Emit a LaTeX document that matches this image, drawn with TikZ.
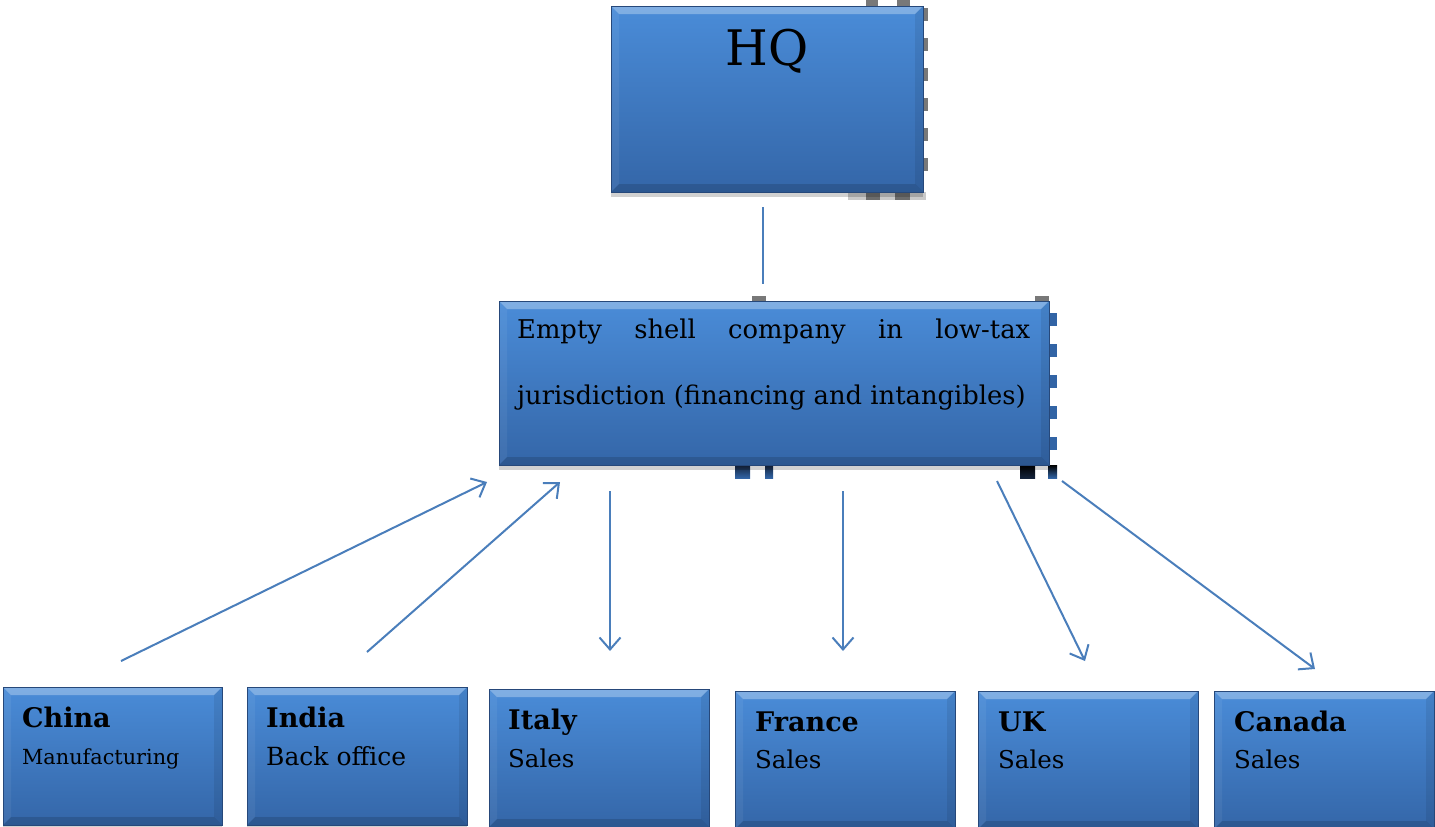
\documentclass[tikz,border=0pt]{standalone}
\usepackage{fontspec}
\setmainfont{DejaVu Serif}
\usetikzlibrary{arrows.meta,shadows}

\definecolor{boxtop}{RGB}{74,140,216}
\definecolor{boxbot}{RGB}{52,102,168}
\definecolor{boxedge}{RGB}{38,72,122}
\definecolor{linkblue}{RGB}{74,126,187}
\definecolor{markgray}{RGB}{120,120,120}
\definecolor{markblue}{RGB}{50,100,165}
\definecolor{markdark}{RGB}{20,35,60}

\tikzset{
  orgbox/.style={rectangle, draw=boxedge, line width=0.8pt,
    top color=boxtop, bottom color=boxbot, inner sep=0pt,
    drop shadow={shadow xshift=0pt, shadow yshift=-5pt, fill=black, opacity=0.18},
    path picture={
      \coordinate (pa) at (path picture bounding box.north west);
      \coordinate (pb) at (path picture bounding box.north east);
      \coordinate (pc) at (path picture bounding box.south east);
      \coordinate (pd) at (path picture bounding box.south west);
      % bevelled rim: light top and left, dark right and bottom
      \fill[white,opacity=0.30] (pa) -- (pb) -- ([xshift=-8pt,yshift=-8pt]pb) -- ([xshift=8pt,yshift=-8pt]pa) -- cycle;
      \fill[white,opacity=0.06] (pa) -- ([xshift=8pt,yshift=-8pt]pa) -- ([xshift=8pt,yshift=8pt]pd) -- (pd) -- cycle;
      \fill[black,opacity=0.08] (pb) -- (pc) -- ([xshift=-8pt,yshift=8pt]pc) -- ([xshift=-8pt,yshift=-8pt]pb) -- cycle;
      \fill[black,opacity=0.14] (pd) -- (pc) -- ([xshift=-8pt,yshift=8pt]pc) -- ([xshift=8pt,yshift=8pt]pd) -- cycle;
    }},
  boxtext/.style={anchor=base west, inner sep=0pt, text=black},
  link/.style={draw=linkblue, line width=2pt},
  linkarrow/.style={link, -{Straight Barb[length=12pt,width=21pt,line width=2pt]}},
}

\begin{document}
\begin{tikzpicture}[x=1pt,y=-1pt]
\useasboundingbox (0,0) rectangle (1435,827);

% stray marks around the top box
\foreach \yy in {8,38,68,98,128,158}
  \fill[markgray] (922,\yy) rectangle (928,\yy+13);
\fill[markgray] (866,0) rectangle (878,6);
\fill[markgray] (897,0) rectangle (910,6);
\fill[markgray!40] (848,192) rectangle (866,200);
\fill[markgray!90!black] (866,192) rectangle (880,200);
\fill[markgray!40] (880,192) rectangle (895,200);
\fill[markgray!90!black] (895,192) rectangle (910,200);
\fill[markgray!40] (910,192) rectangle (926,200);

% stray marks around the middle box
\foreach \yy in {313,344,375,406,437}
  \fill[markblue] (1050,\yy) rectangle (1057,\yy+13);
\fill[markgray] (752,296) rectangle (766,302);
\fill[markgray] (1035,296) rectangle (1049,302);
\shade[top color=markdark, bottom color=markblue] (735,465) rectangle (750,478);
\shade[top color=markdark, bottom color=markblue] (765,465) rectangle (773,478);
\shade[top color=black, bottom color=markdark] (1020,465) rectangle (1035,478);
\shade[top color=black, bottom color=markblue] (1048,465) rectangle (1057,478);

% boxes
\node[orgbox, minimum width=312pt, minimum height=186pt] (hq) at (767,99) {};
\node[orgbox, minimum width=550pt, minimum height=164pt] (shell) at (774,383) {};
\node[orgbox, minimum width=219pt, minimum height=138pt] (china) at (112.5,756) {};
\node[orgbox, minimum width=220pt, minimum height=138pt] (india) at (357,756) {};
\node[orgbox, minimum width=220pt, minimum height=138pt] (italy) at (599,758) {};
\node[orgbox, minimum width=220pt, minimum height=138pt] (france) at (845,760) {};
\node[orgbox, minimum width=220pt, minimum height=138pt] (uk) at (1088,760) {};
\node[orgbox, minimum width=220pt, minimum height=138pt] (canada) at (1324,760) {};

% labels
\node[anchor=base, inner sep=0pt] (hqT) at (767,65) {\fontsize{49}{55}\selectfont HQ};
\node[boxtext] (shellA) at (517,338) {\fontsize{25.8}{30}\selectfont\makebox[513pt][s]{Empty\hfill shell\hfill company\hfill in\hfill low-tax}};
\node[boxtext] (shellB) at (517,404) {\fontsize{25.8}{30}\selectfont jurisdiction (financing and intangibles)};

\node[boxtext] (chinaA) at (22,727) {\fontsize{27}{31}\selectfont\bfseries China};
\node[boxtext] (chinaB) at (22,764) {\fontsize{20.8}{24}\selectfont Manufacturing};
\node[boxtext] (indiaA) at (266,727) {\fontsize{27}{31}\selectfont\bfseries India};
\node[boxtext] (indiaB) at (266,765) {\fontsize{25}{29}\selectfont Back office};
\node[boxtext] (italyA) at (508,729) {\fontsize{27}{31}\selectfont\bfseries Italy};
\node[boxtext] (italyB) at (508,767) {\fontsize{24.5}{28}\selectfont Sales};
\node[boxtext] (franceA) at (755,731) {\fontsize{27}{31}\selectfont\bfseries France};
\node[boxtext] (franceB) at (755,768) {\fontsize{24.5}{28}\selectfont Sales};
\node[boxtext] (ukA) at (998,731) {\fontsize{27}{31}\selectfont\bfseries UK};
\node[boxtext] (ukB) at (998,768) {\fontsize{24.5}{28}\selectfont Sales};
\node[boxtext] (canadaA) at (1234,731) {\fontsize{27}{31}\selectfont\bfseries Canada};
\node[boxtext] (canadaB) at (1234,768) {\fontsize{24.5}{28}\selectfont Sales};

% connector end points
\coordinate (hqLow) at (763,207);
\coordinate (shellTop) at (763,284);
\coordinate (chinaOut) at (121,661);
\coordinate (chinaIn) at (487,482);
\coordinate (indiaOut) at (367,652);
\coordinate (indiaIn) at (560,482);
\coordinate (italyOut) at (610,491);
\coordinate (italyIn) at (610,651);
\coordinate (franceOut) at (843,491);
\coordinate (franceIn) at (843,651);
\coordinate (ukOut) at (997,481);
\coordinate (ukIn) at (1085,661);
\coordinate (canadaOut) at (1062,481);
\coordinate (canadaIn) at (1315,669);

% connectors
\draw[link] (hqLow) -- (shellTop);
\draw[linkarrow] (chinaOut) -- (chinaIn);
\draw[linkarrow] (indiaOut) -- (indiaIn);
\draw[linkarrow] (italyOut) -- (italyIn);
\draw[linkarrow] (franceOut) -- (franceIn);
\draw[linkarrow] (ukOut) -- (ukIn);
\draw[linkarrow] (canadaOut) -- (canadaIn);
\end{tikzpicture}
\end{document}
